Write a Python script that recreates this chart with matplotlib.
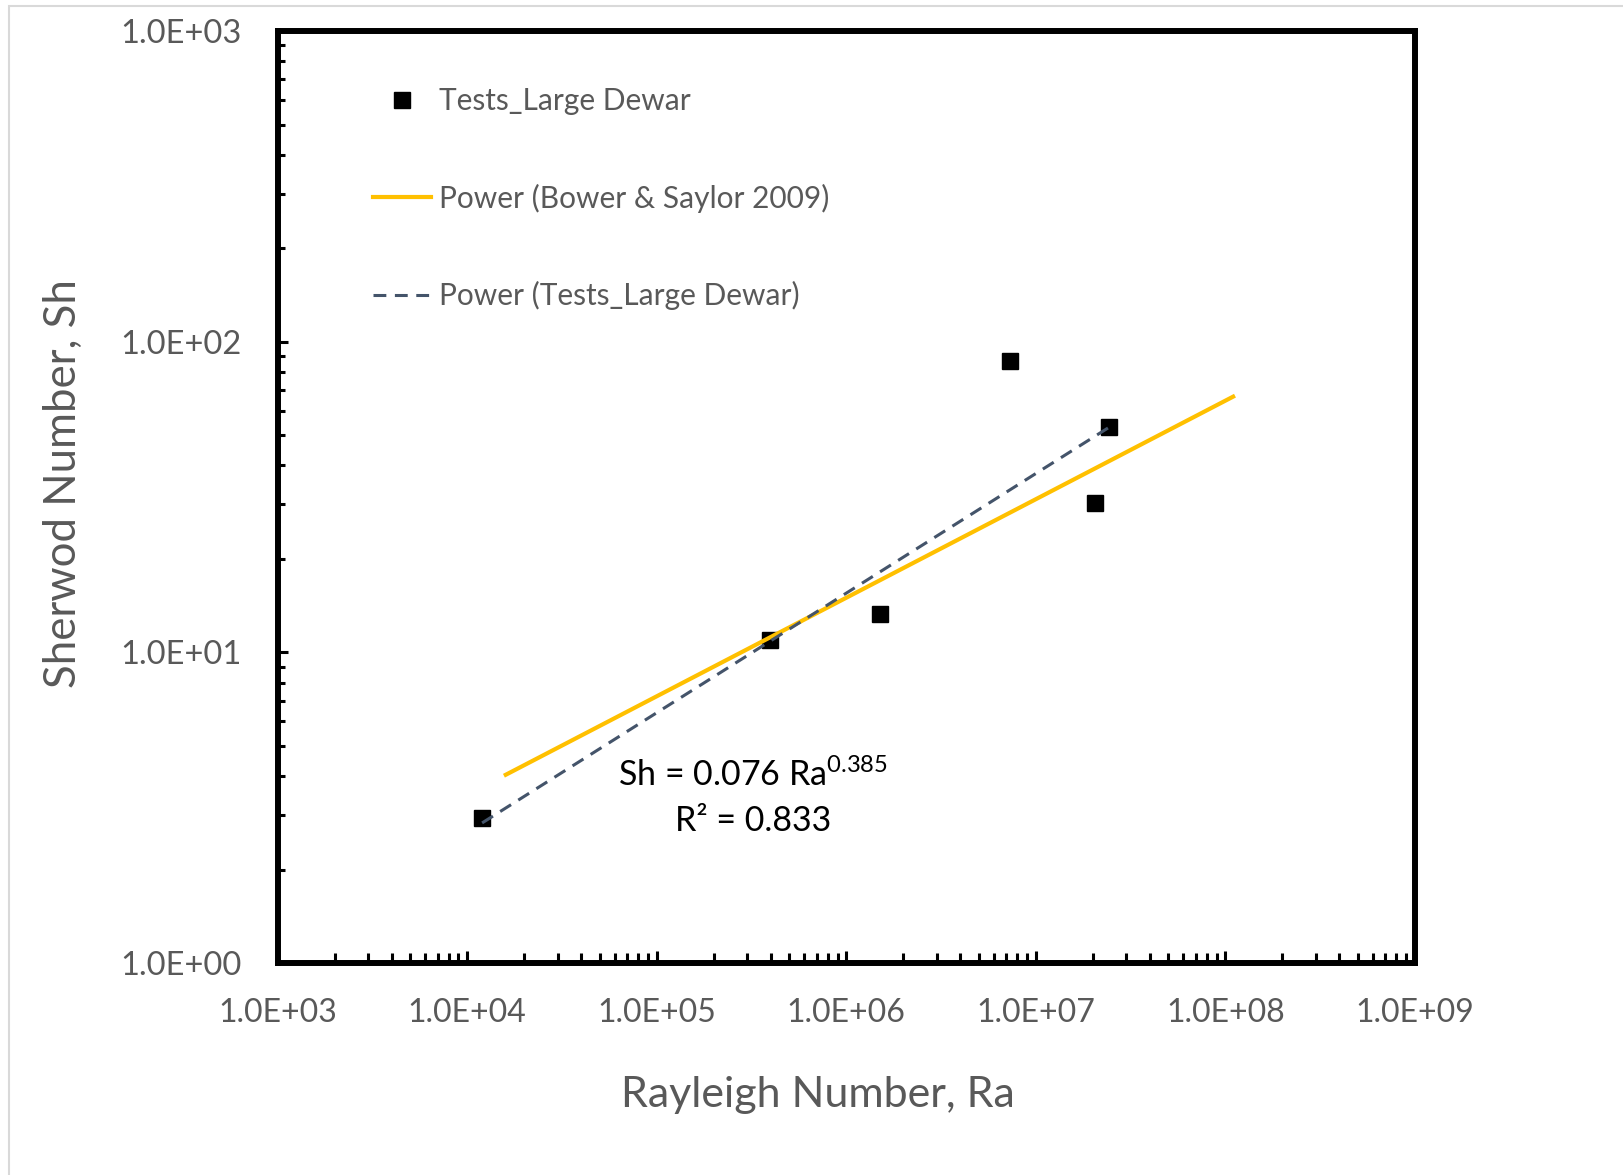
import numpy as np
import matplotlib
matplotlib.use('Agg')
import matplotlib.pyplot as plt
from matplotlib.ticker import LogLocator, FuncFormatter, NullFormatter
from matplotlib.patches import Rectangle

plt.rcParams['font.family'] = ['Lato', 'DejaVu Sans']
plt.rcParams['mathtext.fontset'] = 'custom'
plt.rcParams['mathtext.rm'] = 'Lato'

# Test data (Large Dewar)
ra_tests = [1.2e4, 3.95e5, 1.5e6, 7.3e6, 2.05e7, 2.44e7]
sh_tests = [2.93, 10.95, 13.3, 87.0, 30.2, 53.3]

# Bower & Saylor 2009 power curve, end points
ra_bower = [1.6e4, 1.1e8]
sh_bower = [4.04, 66.6]

# Power fit printed on the chart
fit_coef = 0.076
fit_exp = 0.385
fit_r2 = 0.833

# axis decades
x_ticks = [1e3, 1e4, 1e5, 1e6, 1e7, 1e8, 1e9]
y_ticks = [1e0, 1e1, 1e2, 1e3]

gray_text = '#595959'

fig = plt.figure(figsize=(16.24, 11.75), dpi=100)
ax = fig.add_axes([0.1709, 0.1803, 0.7003, 0.7932])

ax.set_xscale('log')
ax.set_yscale('log')
ax.set_xlim(x_ticks[0], x_ticks[-1])
ax.set_ylim(y_ticks[0], y_ticks[-1])

# data and trendlines
ax.plot(ra_tests, sh_tests, linestyle='none', marker='s', markersize=11.5,
        color='black', zorder=3, label='Tests_Large Dewar')
ax.plot(ra_bower, sh_bower, color='#FFC000', linewidth=3.0, zorder=4,
        label='Power (Bower & Saylor 2009)')
ra_fit = np.array([min(ra_tests), max(ra_tests)])
sh_fit = fit_coef * ra_fit ** fit_exp
ax.plot(ra_fit, sh_fit, color='#44546A', linewidth=2.2, dashes=(4.2, 2.8),
        zorder=5, label='Power (Tests_Large Dewar)')

# axes frame
for side in ax.spines.values():
    side.set_linewidth(4.3)
    side.set_color('black')

sci = FuncFormatter(lambda v, pos: f'{v:.1E}')
ax.set_xticks(x_ticks)
ax.set_yticks(y_ticks)
ax.xaxis.set_minor_locator(LogLocator(base=10, subs=np.arange(2, 10), numticks=20))
ax.yaxis.set_minor_locator(LogLocator(base=10, subs=np.arange(2, 10), numticks=20))
ax.xaxis.set_major_formatter(sci)
ax.yaxis.set_major_formatter(sci)
ax.xaxis.set_minor_formatter(NullFormatter())
ax.yaxis.set_minor_formatter(NullFormatter())

ax.tick_params(axis='x', which='major', direction='in', length=9, width=2.2,
               pad=25, labelsize=23, labelcolor=gray_text)
ax.tick_params(axis='x', which='minor', direction='in', length=7.5, width=2.2)
ax.tick_params(axis='y', which='major', direction='in', length=7, width=2.2,
               pad=26, labelsize=23.5, labelcolor=gray_text)
ax.tick_params(axis='y', which='minor', direction='in', length=5, width=2.2)

ax.set_xlabel('Rayleigh Number, Ra', fontsize=31, color=gray_text)
ax.set_ylabel('Sherwod Number, Sh', fontsize=31.5, color=gray_text)
ax.xaxis.set_label_coords(0.475, -0.1414)
ax.xaxis.label.set_va('center')
ax.yaxis.set_label_coords(-0.188, 0.515)
ax.yaxis.label.set_va('center')

# fit equation
ax.text(0.418, 0.202, rf'Sh = {fit_coef} Ra$^{{\mathrm{{{fit_exp}}}}}$',
        transform=ax.transAxes, ha='center', va='center', fontsize=24.5, color='black')
ax.text(0.418, 0.1526, f'R² = {fit_r2}', transform=ax.transAxes,
        ha='center', va='center', fontsize=24.5, color='black')

leg = ax.legend(loc='upper left', bbox_to_anchor=(0.084, 0.94), frameon=False,
                fontsize=21.5, handlelength=1.95, handletextpad=0.25,
                labelspacing=2.29, borderpad=0, borderaxespad=0)
for t in leg.get_texts():
    t.set_color(gray_text)

# thin gray frame around the picture
fig.add_artist(Rectangle((9 / 1624, -0.1), 1.2, 1.1 - 6 / 1175,
                         transform=fig.transFigure, fill=False,
                         edgecolor='#d9d9d9', linewidth=1.5))

fig.savefig('out.png', dpi=100)
